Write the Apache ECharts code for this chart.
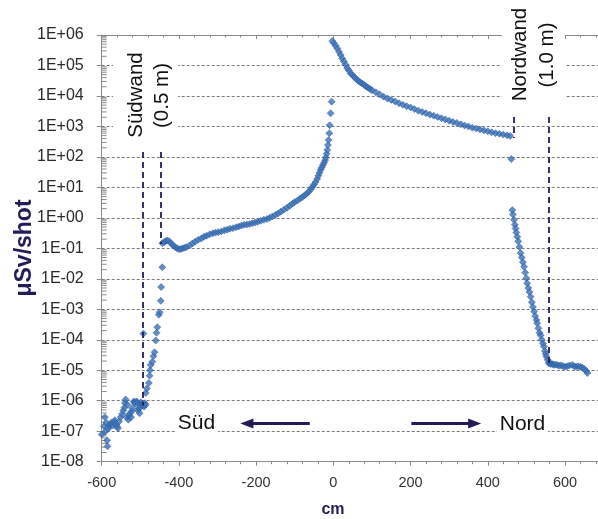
<!DOCTYPE html>
<html>
<head>
<meta charset="utf-8">
<script src="https://cdn.jsdelivr.net/npm/echarts@6/dist/echarts.min.js"></script>
<style>
  html, body { margin: 0; padding: 0; background: #ffffff; }
  #chart { width: 598px; height: 519px; }
</style>
</head>
<body>
<div id="chart"></div>
<script>
// Dose per shot along the hall axis (cm), log scale.

// South of the south wall
const southOutside = [
  [-600, 7.8e-8], [-594, 1.45e-7], [-592, 2.9e-7], [-590, 1.0e-7], [-588, 1.9e-7],
  [-586, 5.0e-8], [-585, 3.2e-8], [-583, 1.2e-7], [-581, 1.45e-7], [-578, 1.7e-7],
  [-575, 1.9e-7], [-571, 1.55e-7], [-568, 2.0e-7], [-566, 2.3e-7], [-562, 1.7e-7],
  [-560, 1.4e-7], [-558, 1.26e-7], [-555, 2.1e-7], [-551, 2.9e-7], [-547, 3.7e-7],
  [-544, 4.8e-7], [-541, 6.0e-7], [-540, 8.5e-7], [-538, 1.1e-6], [-535, 2.9e-7],
  [-533, 7.4e-7], [-531, 2.4e-7], [-529, 3.2e-7], [-527, 3.9e-7], [-524, 2.9e-7],
  [-522, 4.5e-7], [-521, 5.7e-7], [-517, 9.5e-7], [-515, 8.8e-7], [-513, 8.0e-7],
  [-510, 9.5e-7], [-508, 8.9e-7], [-506, 4.8e-7], [-504, 5.6e-7], [-502, 3.9e-7],
  [-500, 6.2e-7], [-498, 9.0e-7], [-496, 8.0e-7]
];

// Inside the south wall
const southWall = [
  [-494, 7.5e-7], [-492, 1.6e-4], [-492, 6.8e-7], [-490, 6.5e-7], [-488, 8.3e-7],
  [-486, 7.4e-7], [-486, 1.8e-6], [-483, 2.5e-6], [-478, 3.8e-6], [-476, 6.6e-6],
  [-475, 1.0e-5], [-473, 1.5e-5], [-469, 1.9e-5], [-466, 2.9e-5], [-463, 3.9e-5],
  [-460, 9.5e-5], [-458, 1.7e-4], [-456, 2.6e-4], [-452, 6.6e-4], [-450, 8.0e-4],
  [-447, 1.9e-3], [-446, 5.4e-3], [-443, 2.4e-2]
];

// Hall, south side of the source
const hallSouth = [
  [-443, 0.148], [-438, 0.16], [-434, 0.175], [-430, 0.18], [-425, 0.17], [-420, 0.145],
  [-415, 0.125], [-410, 0.11], [-405, 0.1], [-400, 0.094], [-395, 0.095], [-390, 0.1],
  [-385, 0.105], [-380, 0.11], [-372, 0.125], [-365, 0.145], [-358, 0.165], [-350, 0.19],
  [-342, 0.21], [-335, 0.24], [-328, 0.26], [-320, 0.29], [-312, 0.31], [-305, 0.33],
  [-298, 0.34], [-290, 0.36], [-282, 0.39], [-275, 0.41], [-268, 0.44], [-260, 0.46],
  [-252, 0.49], [-245, 0.52], [-238, 0.56], [-231, 0.59], [-224, 0.61], [-217, 0.63],
  [-210, 0.66], [-203, 0.7], [-196, 0.74], [-188, 0.8], [-180, 0.86], [-172, 0.92],
  [-165, 1.0], [-158, 1.1], [-150, 1.25], [-143, 1.4], [-136, 1.6], [-128, 1.85],
  [-120, 2.15], [-113, 2.5], [-106, 2.9], [-100, 3.3], [-93, 3.7], [-86, 4.3],
  [-80, 4.8], [-74, 5.5], [-68, 6.4], [-63, 7.3], [-58, 8.8], [-54, 10.5],
  [-50, 12.5], [-46, 15], [-42, 19], [-39, 24], [-36, 30], [-33, 38],
  [-30, 45], [-27, 54], [-24, 64], [-21.5, 78], [-19.5, 95], [-17.4, 126],
  [-15.6, 170], [-14, 245], [-12.2, 360], [-10.4, 600], [-9.6, 1100], [-7, 2700],
  [-4.4, 6500]
];

// Hall, north side of the source
const hallNorth = [
  [-2.6, 6.3e5], [1.6, 5.4e5], [6, 4.4e5], [10.4, 3.6e5], [14.6, 2.8e5], [19, 2.2e5],
  [23, 1.7e5], [27.5, 1.35e5], [32, 1.05e5], [36, 8.1e4], [40.5, 6.8e4], [45, 5.5e4],
  [50, 4.8e4], [55, 4.1e4], [60, 3.5e4], [65, 3.1e4], [70, 2.8e4], [75, 2.55e4],
  [80, 2.3e4], [85, 2.05e4], [90, 1.86e4], [95, 1.7e4], [100, 1.55e4], [110, 1.32e4],
  [120, 1.12e4], [130, 9.5e3], [140, 8.3e3], [150, 7.4e3], [160, 6.6e3], [170, 5.8e3],
  [180, 5.1e3], [190, 4.6e3], [200, 4.2e3], [210, 3.7e3], [220, 3.3e3], [230, 3.0e3],
  [240, 2.7e3], [250, 2.45e3], [260, 2.25e3], [270, 2.05e3], [280, 1.85e3], [290, 1.7e3],
  [300, 1.55e3], [310, 1.4e3], [320, 1.3e3], [330, 1.17e3], [340, 1.07e3], [350, 1.0e3],
  [360, 910], [370, 850], [380, 790], [390, 740], [400, 690], [410, 645],
  [420, 600], [430, 575], [440, 540], [450, 510], [458, 490]
];

// Inside the north wall
const northWall = [
  [461, 85], [463.6, 1.8], [465, 1.3], [468, 0.86], [470, 0.6], [472, 0.45], [474, 0.33],
  [476.5, 0.24], [479, 0.17], [482, 0.11], [485, 0.07], [488, 0.05], [491, 0.035],
  [494, 0.025], [497, 0.016], [500, 0.0105], [502, 0.0072], [505, 0.005], [508, 0.0037],
  [511, 0.0026], [514, 0.0017], [517, 0.0012], [520, 8.5e-4], [523, 6e-4], [526, 4.5e-4],
  [528, 3.5e-4], [531, 2.4e-4], [534, 1.7e-4], [537, 1.4e-4], [540, 1.0e-4], [543, 7.5e-5],
  [545.5, 6e-5], [548, 4.3e-5], [550, 3.4e-5], [552, 2.8e-5], [555, 2.2e-5], [558, 1.7e-5]
];

// North of the north wall
const northOutside = [
  [560, 1.8e-5], [563, 1.6e-5], [567, 1.6e-5], [571, 1.5e-5], [575, 1.55e-5], [580, 1.5e-5],
  [585, 1.4e-5], [590, 1.45e-5], [595, 1.35e-5], [600, 1.3e-5], [606, 1.35e-5], [612, 1.45e-5],
  [619, 1.5e-5], [624, 1.35e-5], [629, 1.3e-5], [634, 1.35e-5], [640, 1.3e-5], [645, 1.2e-5],
  [650, 1.1e-5], [655, 9.5e-6], [658, 8.1e-6]
];

// Wall faces (cm) and the dose range each marker line spans
const southWallFaces = [-493, -447];
const northWallFaces = [466, 559];
const wallLineRanges = [[145, 7e-7], [145, 0.14], [2050, 420], [2050, 1.7e-5]];

// Direction arrows: [from cm, to cm] at a fixed dose level
const arrowLevel = 1.8e-7;
const arrowSud = [-61, -224];
const arrowNord = [202, 366];

// Axis ticks
const xTickValues = [-600, -400, -200, 0, 200, 400, 600];
const xTickLabels = ['-600', '-400', '-200', '0', '200', '400', '600'];
const yTickLabels = ['1E-08', '1E-07', '1E-06', '1E-05', '1E-04', '1E-03', '1E-02',
  '1E-01', '1E+00', '1E+01', '1E+02', '1E+03', '1E+04', '1E+05', '1E+06'];
const yMinExp = -8;
const yMaxExp = 6;

const X_MIN = -600, X_MAX = 800;
const AXIS_GRAY = '#8a8a8a';
const GRID_GRAY = '#7a7a7a';
const NAVY = '#221c58';
const POINT_BLUE = '#3b72ba';
const FONT = '"Liberation Sans", Arial, sans-serif';

const points = [].concat(southOutside, southWall, hallSouth, hallNorth, northWall, northOutside);

// log-scale minor tick positions (2..9 within each decade)
const minorTickValues = [];
for (let e = yMinExp; e < yMaxExp; e++) {
  for (let k = 2; k <= 9; k++) minorTickValues.push([X_MIN, k * Math.pow(10, e)]);
}

const dashed = { color: NAVY, width: 1.8, type: [6, 4] };
const wallLines = [southWallFaces[0], southWallFaces[1], northWallFaces[0], northWallFaces[1]]
  .map((x, i) => [
    { coord: [x, wallLineRanges[i][0]], lineStyle: dashed },
    { coord: [x, wallLineRanges[i][1]] }
  ]);
const arrowLine = { color: NAVY, width: 3, type: 'solid' };
const arrows = [arrowSud, arrowNord].map(a => [
  { coord: [a[0], arrowLevel], symbol: 'none', lineStyle: arrowLine },
  { coord: [a[1], arrowLevel], symbol: 'triangle', symbolSize: [10, 13] }
]);

function xAxisBase(tickInside) {
  return {
    type: 'value', min: X_MIN, max: X_MAX, interval: 200,
    axisLine: { show: !tickInside, onZero: false, lineStyle: { color: AXIS_GRAY, width: 1 } },
    axisTick: { show: true, inside: tickInside, length: 4, lineStyle: { color: AXIS_GRAY } },
    minorTick: { show: true, splitNumber: 5, length: 2.5, lineStyle: { color: AXIS_GRAY } },
    splitLine: { show: false },
    axisLabel: tickInside ? { show: false } : {
      show: true, margin: 14, fontSize: 14.5, color: '#333', fontFamily: FONT,
      showMaxLabel: false,
      formatter: v => { const i = xTickValues.indexOf(v); return i >= 0 ? xTickLabels[i] : ''; }
    }
  };
}

const chart = echarts.init(document.getElementById('chart'), null, { renderer: 'canvas' });
chart.setOption({
  animation: false,
  backgroundColor: '#ffffff',
  grid: { left: 101.7, right: -44.2, top: 35, bottom: 57.3, containLabel: false, outerBoundsMode: 'none' },
  xAxis: [xAxisBase(false), xAxisBase(true)],
  yAxis: {
    type: 'log', logBase: 10, min: Math.pow(10, yMinExp), max: Math.pow(10, yMaxExp), interval: 1,
    axisLine: { show: true, onZero: false, lineStyle: { color: AXIS_GRAY, width: 1 } },
    axisTick: { show: true, length: 5, lineStyle: { color: AXIS_GRAY } },
    axisLabel: {
      margin: 18, fontSize: 16, color: '#2a2a2a', fontFamily: FONT,
      formatter: v => yTickLabels[Math.round(Math.log10(v)) - yMinExp] || ''
    },
    splitLine: { show: true, lineStyle: { color: GRID_GRAY, width: 1, type: [3, 2] } }
  },
  series: [
    {
      type: 'custom', silent: true, z: 1,
      renderItem: function (params, api) {
        const p = api.coord([X_MIN, api.value(1)]);
        return { type: 'line', shape: { x1: p[0], y1: p[1], x2: p[0] + 5, y2: p[1] },
          style: { stroke: AXIS_GRAY, lineWidth: 1 } };
      },
      data: minorTickValues
    },
    {
      type: 'scatter', silent: true,
      symbol: 'diamond', symbolSize: 7,
      itemStyle: { color: POINT_BLUE, borderColor: '#2a568f', borderWidth: 0.6 },
      data: points,
      markLine: {
        silent: true, symbol: 'none', label: { show: false },
        emphasis: { disabled: true },
        data: [
          [{ coord: [X_MIN, Math.pow(10, yMaxExp)], lineStyle: { color: AXIS_GRAY, width: 1, type: 'solid' } },
           { coord: [X_MAX, Math.pow(10, yMaxExp)] }]
        ].concat(wallLines, arrows)
      }
    }
  ],
  graphic: [
    { type: 'rect', z: 100, shape: { x: 113, y: 40, width: 65, height: 102 }, style: { fill: '#fff' } },
    { type: 'rect', z: 100, shape: { x: 502, y: 0, width: 63, height: 105 }, style: { fill: '#fff' } },
    { type: 'rect', z: 100, shape: { x: 175, y: 413, width: 43, height: 22 }, style: { fill: '#fff' } },
    { type: 'rect', z: 100, shape: { x: 497, y: 413, width: 51, height: 22 }, style: { fill: '#fff' } },
    { type: 'text', z: 101, x: 136, y: 95, rotation: Math.PI / 2,
      style: { text: 'Südwand', fontSize: 20.5, fontFamily: FONT, fill: '#111', align: 'center', verticalAlign: 'middle' } },
    { type: 'text', z: 101, x: 162, y: 95.5, rotation: Math.PI / 2,
      style: { text: '(0.5 m)', fontSize: 20.5, fontFamily: FONT, fill: '#111', align: 'center', verticalAlign: 'middle' } },
    { type: 'text', z: 101, x: 520.5, y: 54.5, rotation: Math.PI / 2,
      style: { text: 'Nordwand', fontSize: 20.5, fontFamily: FONT, fill: '#111', align: 'center', verticalAlign: 'middle' } },
    { type: 'text', z: 101, x: 547, y: 55, rotation: Math.PI / 2,
      style: { text: '(1.0 m)', fontSize: 20.5, fontFamily: FONT, fill: '#111', align: 'center', verticalAlign: 'middle' } },
    { type: 'text', z: 101, x: 196.5, y: 423,
      style: { text: 'Süd', fontSize: 21, fontFamily: FONT, fill: '#111', align: 'center', verticalAlign: 'middle' } },
    { type: 'text', z: 101, x: 522.5, y: 424,
      style: { text: 'Nord', fontSize: 21, fontFamily: FONT, fill: '#111', align: 'center', verticalAlign: 'middle' } },
    { type: 'text', z: 101, x: 25, y: 248, rotation: Math.PI / 2,
      style: { text: 'μSv/shot', fontSize: 23, fontWeight: 'bold', fontFamily: FONT, fill: NAVY, align: 'center', verticalAlign: 'middle' } },
    { type: 'text', z: 101, x: 333, y: 510,
      style: { text: 'cm', fontSize: 16, fontWeight: 'bold', fontFamily: FONT, fill: NAVY, align: 'center', verticalAlign: 'middle' } }
  ]
});
</script>
</body>
</html>
